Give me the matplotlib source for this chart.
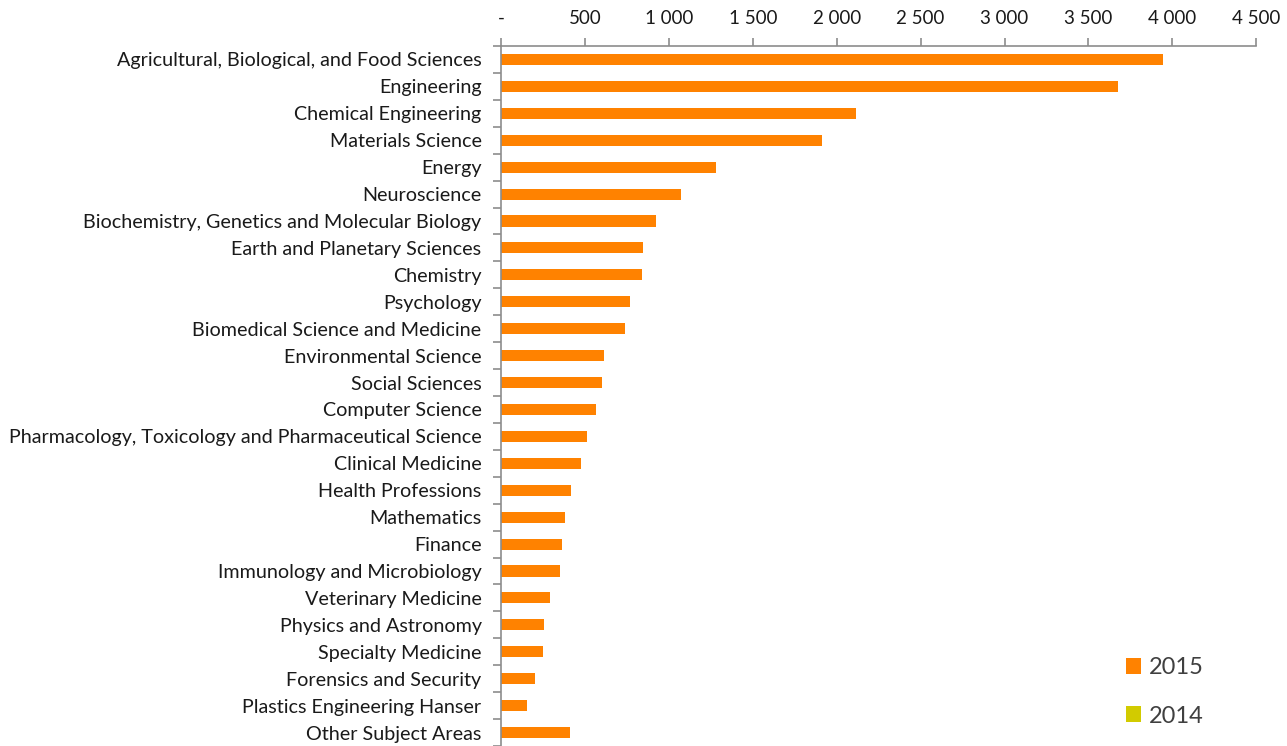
import matplotlib
matplotlib.use('Agg')
import matplotlib.pyplot as plt
import numpy as np
from matplotlib.ticker import FuncFormatter

subjects = ['Agricultural, Biological, and Food Sciences', 'Engineering',
            'Chemical Engineering', 'Materials Science', 'Energy',
            'Neuroscience', 'Biochemistry, Genetics and Molecular Biology',
            'Earth and Planetary Sciences', 'Chemistry', 'Psychology',
            'Biomedical Science and Medicine', 'Environmental Science',
            'Social Sciences', 'Computer Science',
            'Pharmacology, Toxicology and Pharmaceutical Science',
            'Clinical Medicine', 'Health Professions', 'Mathematics',
            'Finance', 'Immunology and Microbiology', 'Veterinary Medicine',
            'Physics and Astronomy', 'Specialty Medicine',
            'Forensics and Security', 'Plastics Engineering Hanser',
            'Other Subject Areas']
values_2015 = [3943, 3675, 2115, 1914, 1281, 1072, 921, 844, 840, 768,
               739, 612, 600, 568, 512, 478, 415, 381, 363, 351, 290,
               258, 248, 201, 153, 411]
values_2014 = [0] * len(subjects)

ORANGE = '#FF8200'
OLIVE = '#D2CB00'
GREY = '#8C8C8C'

plt.rcParams['font.family'] = ['Lato', 'DejaVu Sans']

fig = plt.figure(figsize=(12.87, 7.46), dpi=100)
ax = fig.add_axes([501 / 1287, 0.0, (1256.3 - 501) / 1287, 1 - 46 / 746])

ind = np.arange(len(subjects))
ax.barh(ind, values_2015, 0.41, color=ORANGE, label='2015')
ax.barh(ind, values_2014, 0.41, color=OLIVE, label='2014')

ax.set_ylim(len(subjects) - 0.5, -0.5)
ax.set_xlim(0, 4500)
ax.set_xticks(np.arange(0, 4501, 500))
ax.xaxis.set_major_formatter(FuncFormatter(
    lambda v, p: '-' if v == 0 else f'{v:,.0f}'.replace(',', ' ')))
ax.xaxis.tick_top()

ax.set_yticks(ind)
ax.set_yticklabels(subjects)
# category separators on the left axis, like the source
ax.set_yticks(np.arange(-0.5, len(subjects), 1), minor=True)

for s in ['right', 'bottom']:
    ax.spines[s].set_visible(False)
for s in ['top', 'left']:
    ax.spines[s].set_color(GREY)
    ax.spines[s].set_linewidth(1.2)

ax.tick_params(axis='x', which='major', length=6, width=1.2, color=GREY,
               labelsize=13.5, pad=8, labelcolor='#1a1a1a')
ax.tick_params(axis='y', which='major', length=0, labelsize=14.2, pad=14,
               labelcolor='#1a1a1a')
ax.tick_params(axis='y', which='minor', length=6, width=1.2, color=GREY)

handles, labels = ax.get_legend_handles_labels()
leg = fig.legend(handles, labels, loc='center left',
                 bbox_to_anchor=(1126 / 1287, 1 - 692 / 746),
                 frameon=False, fontsize=17, handlelength=0.65,
                 handleheight=0.65, handletextpad=0.3, labelspacing=1.15,
                 borderpad=0, borderaxespad=0)
for t in leg.get_texts():
    t.set_color('#404040')

fig.savefig('out.png', dpi=100)
